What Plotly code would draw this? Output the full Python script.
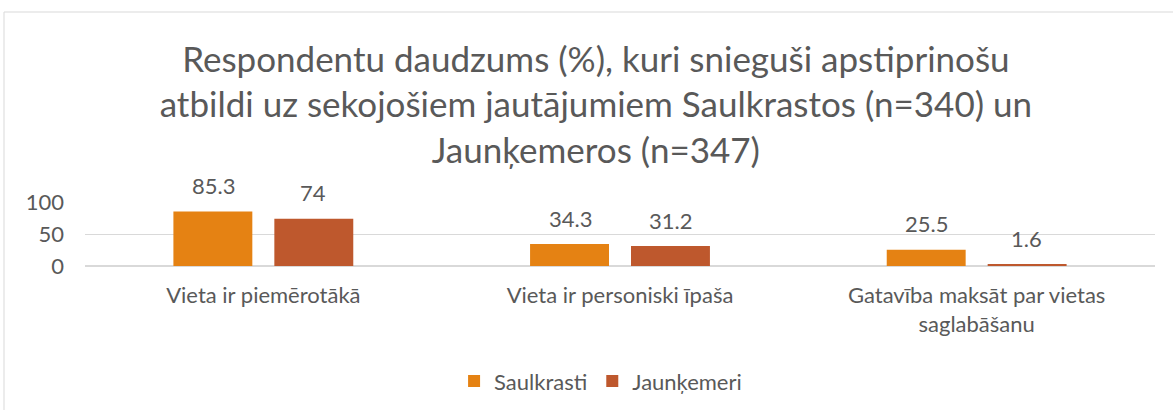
import plotly.graph_objects as go

categories = ["Vieta ir piemērotākā", "Vieta ir personiski īpaša", "Gatavība maksāt par vietas<br>saglabāšanu"]
saulkrasti = [85.3, 34.3, 25.5]
jaunkemeri = [74, 31.2, 1.6]
series_names = ["Saulkrasti", "Jaunķemeri"]
colors = ["#E58213", "#BE582D"]
y_ticks = [0, 50, 100]

title_text = ("Respondentu daudzums (%), kuri snieguši apstiprinošu<br>"
              "atbildi uz sekojošiem jautājumiem Saulkrastos (n=340) un<br>"
              "Jaunķemeros (n=347)")

FONT = "Lato, Calibri, Carlito, sans-serif"
GRAY = "#595959"
FS = 22

fig = go.Figure()
for name, vals, col in zip(series_names, [saulkrasti, jaunkemeri], colors):
    fig.add_trace(go.Bar(name=name, x=categories, y=vals, marker_color=col,
                         marker_line_width=0))

# data labels
for vals, shift in [(saulkrasti, -50), (jaunkemeri, 50)]:
    for c, v in zip(categories, vals):
        fig.add_annotation(x=c, y=v, text=f"{v:g}", showarrow=False, xref="x", yref="y",
                           xshift=shift, yshift=26, font=dict(family=FONT, size=FS, color=GRAY))

fig.update_layout(
    width=1173, height=410,
    margin=dict(l=85, r=18, t=202, b=144),
    paper_bgcolor="white", plot_bgcolor="white",
    barmode="group", bargap=0.434, bargroupgap=0.218,
    title=dict(text=title_text, x=0.508, xanchor="center", y=0.825, yanchor="middle",
               xref="container", yref="container",
               font=dict(family=FONT, size=35, color=GRAY)),
    font=dict(family=FONT, size=FS, color=GRAY),
    legend=dict(orientation="h", x=0.512, xanchor="center", xref="container",
                y=0.07, yanchor="middle", yref="container",
                font=dict(family=FONT, size=FS, color=GRAY), traceorder="normal",
                itemwidth=30),
    xaxis=dict(showgrid=False, showline=False, ticks="", tickfont=dict(size=FS, color=GRAY)),
    yaxis=dict(range=[0, 100], tickvals=y_ticks, showgrid=True, gridcolor="#d9d9d9",
               gridwidth=1, zeroline=True, zerolinecolor="#d9d9d9", showline=False,
               ticks="", tickfont=dict(size=FS, color=GRAY)),
    shapes=[dict(type="rect", xref="paper", yref="paper",
                 x0=(4 - 85) / 1070, x1=(1200 - 85) / 1070,
                 y0=-(430 - 266) / 64, y1=(266 - 12) / 64,
                 line=dict(color="#d9d9d9", width=1), fillcolor="rgba(0,0,0,0)", layer="below")],
)
fig.update_yaxes(ticklabelstandoff=20)
fig.update_xaxes(ticklabelstandoff=14)

fig.write_html("out.html", config={"displayModeBar": False},
               post_script="document.body.style.margin='0';document.body.style.overflow='hidden';")
